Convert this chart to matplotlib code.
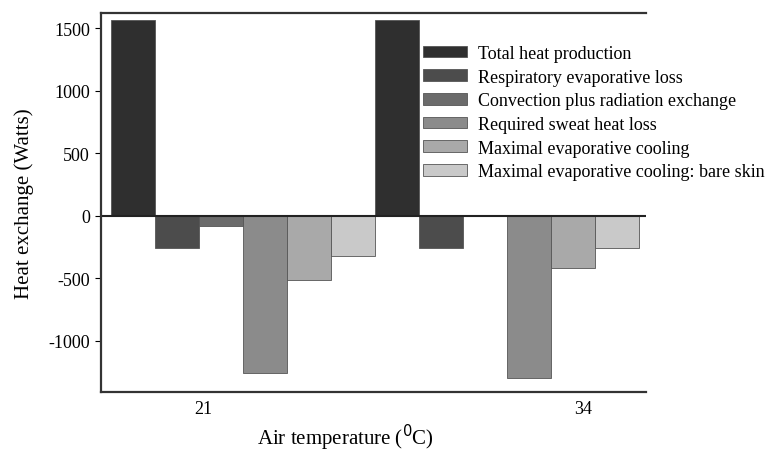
import numpy as np
import matplotlib
matplotlib.use("Agg")
import matplotlib.pyplot as plt

# values (Watts)
temps = ["21", "34"]
series = [
    "Total heat production",
    "Respiratory evaporative loss",
    "Convection plus radiation exchange",
    "Required sweat heat loss",
    "Maximal evaporative cooling",
    "Maximal evaporative cooling: bare skin",
]
total_heat = [1570, 1570]
respiratory = [-255, -255]
convection = [-80, 0]
required_sweat = [-1260, -1300]
max_evap = [-515, -420]
max_evap_bare = [-320, -255]

values = [total_heat, respiratory, convection, required_sweat, max_evap, max_evap_bare]
colors = ["#2f2f2f", "#4c4c4c", "#6b6b6b", "#8b8b8b", "#a9a9a9", "#c9c9c9"]

plt.rcParams["font.family"] = ["Liberation Serif", "DejaVu Serif"]
plt.rcParams["axes.unicode_minus"] = False

fig = plt.figure(figsize=(7.69, 4.52), dpi=100)
ax = fig.add_axes([0.1313, 0.1305, 0.7087, 0.8385])

n = len(series)
for i, (name, vals, c) in enumerate(zip(series, values, colors)):
    xs = [g * n + i for g in range(len(temps))]
    ax.bar(xs, vals, width=1.0, color=c, edgecolor="#555555", linewidth=0.6, label=name)

ax.axhline(0, color="#222222", linewidth=1.5)

ax.set_xlim(-0.73, 11.66)
ax.set_ylim(-1411, 1623)
ax.set_xticks([1.59, 10.23])
ax.set_xticklabels(temps)
ax.tick_params(axis="x", length=0, pad=6, labelsize=13)
ax.set_yticks([-1000, -500, 0, 500, 1000, 1500])
ax.tick_params(axis="y", length=4, width=0.8, pad=4, labelsize=13)

for side in ["top", "left", "bottom"]:
    ax.spines[side].set_color("#333333")
    ax.spines[side].set_linewidth(1.6)
ax.spines["right"].set_visible(False)

ax.set_ylabel("Heat exchange (Watts)", fontsize=15)
ax.yaxis.set_label_coords(-0.122, 0.5)
ax.set_xlabel("Air temperature ($^0$C)", fontsize=15)
ax.xaxis.set_label_coords(0.448, -0.078)

leg = ax.legend(loc="upper left", bbox_to_anchor=(0.577, 0.935), frameon=False,
                fontsize=13, handlelength=2.45, handleheight=0.6,
                labelspacing=0.37, handletextpad=0.6, borderaxespad=0)

fig.savefig("out.png", dpi=100)
